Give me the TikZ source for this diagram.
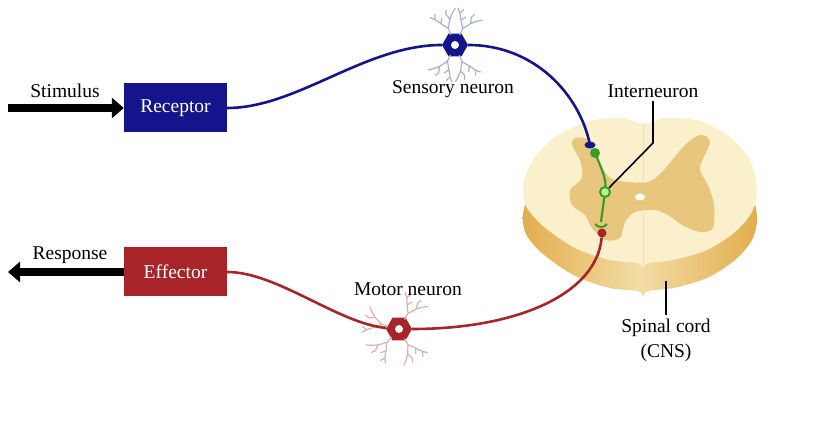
\documentclass[tikz,border=0pt]{standalone}
\usepackage{fontspec}
\setmainfont{Liberation Serif}
\usetikzlibrary{arrows.meta,positioning,shapes.geometric}

\definecolor{sensblue}{HTML}{14148C}
\definecolor{motorred}{HTML}{A82428}
\definecolor{intgreen}{HTML}{3C9A28}
\definecolor{sensdend}{HTML}{A8B0CC}
\definecolor{motordend}{HTML}{D8B0B0}
\definecolor{cordtop}{HTML}{FAF0CC}
\definecolor{cordgray}{HTML}{E8C67E}
\definecolor{cordside}{HTML}{E2AE4C}

\tikzset{
  box/.style={minimum width=103pt,minimum height=49pt,inner sep=0pt,text=white},
  bigarrow/.style={line width=7.5pt,-{Triangle[length=12pt,width=20pt]}},
  axon/.style={line width=2.6pt},
  soma/.style={regular polygon,regular polygon sides=6,minimum size=26pt,inner sep=0pt},
  leader/.style={line width=1.6pt},
  dendrite/.pic={\draw (11,0) -- (18,0) -- (25,-5) -- (31,-9) (25,-5) -- (30,-2)
    (18,0) -- (26,5) -- (32,3) (26,5) -- (31,10) (31,-9) -- (35,-13) (31,-9) -- (36,-7)
    (32,3) -- (36,5) (31,10) -- (34,14);}
}

\begin{document}
\begin{tikzpicture}[x=1pt,y=-1pt,font=\fontsize{19.5}{25}\selectfont]
\useasboundingbox (0,0) rectangle (823,435);

% spinal cord
\path[left color=cordside,right color=cordside,middle color=cordtop!70!cordside,shift={(0,28)}]
  plot[smooth cycle] coordinates {(643,124) (665,118) (700,121) (730,137) (750,160) (757,190)
  (752,212) (735,232) (707,250) (673,260) (648,263) (643,268) (638,263) (610,260) (575,248)
  (543,226) (526,206) (523,185) (533,160) (555,137) (590,121) (622,118)};
\fill[cordtop] plot[smooth cycle] coordinates {(643,124) (665,118) (700,121) (730,137) (750,160)
  (757,190) (752,212) (735,232) (707,250) (673,260) (648,263) (643,268) (638,263) (610,260)
  (575,248) (543,226) (526,206) (523,185) (533,160) (555,137) (590,121) (622,118)};
\fill[cordgray] plot[smooth cycle] coordinates {(575,138) (588,140) (598,160) (610,178) (628,182)
  (648,182) (662,172) (685,145) (700,135) (710,142) (700,168) (708,185) (714,205) (713,228)
  (700,232) (682,225) (668,215) (655,210) (635,212) (625,222) (620,238) (605,240) (592,228)
  (585,215) (572,205) (570,190) (582,178) (580,160) (572,145)};
\draw[cordgray!50!cordtop,line width=1pt] (643,124) -- (643,180) (643,214) -- (643,266);
\fill[white] (640,197) ellipse (5 and 3.5);

% receptor and effector
\node[box,fill=sensblue] (receptor) at (175.5,108) {Receptor};
\node[box,fill=motorred] (effector) at (175.5,272) {Effector};
\node (stimulus) at (65,91) {Stimulus};
\node (response) at (70,255) {Response};
\coordinate (stimin) at (8,108);
\coordinate (respout) at (8,272);
\draw[bigarrow] (stimin) -- (receptor.west);
\draw[bigarrow] (effector.west) -- (respout);

% sensory neuron
\node[soma,fill=sensblue] (scell) at (455,45) {};
\fill[white] (scell) circle (4);
\foreach \a in {65,112,245,293}
  \pic[color=sensdend,line width=1.2pt,rotate=\a] at (scell) {dendrite};
\node (senslabel) at (453,89) {Sensory neuron};
\coordinate (sterm) at (590,145);
\draw[axon,sensblue] (receptor.east) .. controls +(70,0) and +(-90,0) .. (scell);
\draw[axon,sensblue] (scell) .. controls +(80,0) and +(-10,-50) .. (sterm);
\fill[sensblue] (sterm) ellipse (5.5 and 3.5);

% interneuron
\coordinate (iA) at (595,153);
\node[circle,draw=intgreen,line width=2pt,fill=green!25!cordtop,minimum size=10pt,inner sep=0pt] (inter) at (605,192) {};
\coordinate (iC) at (601,222);
\draw[intgreen,line width=2.2pt] (iA) .. controls (600,165) and (606,178) .. (inter) -- (iC);
\fill[intgreen] (iA) circle (5);
\draw[intgreen,line width=2pt] (595,224) .. controls (598,228) and (604,228) .. (607,224);

% motor neuron
\node[circle,fill=motorred,minimum size=9pt,inner sep=0pt] (mterm) at (602,233) {};
\node[soma,fill=motorred] (mcell) at (399,329) {};
\fill[white] (mcell) circle (4);
\foreach \a in {60,165,228,300}
  \pic[color=motordend,line width=1.2pt,rotate=\a] at (mcell) {dendrite};
\node (motorlabel) at (408,289) {Motor neuron};
\draw[axon,motorred] (effector.east) .. controls +(50,0) and +(-60,-5) .. (mcell);
\draw[axon,motorred] (mcell) .. controls +(120,0) and +(-5,60) .. (mterm);

% labels on the cord
\node (interlabel) at (653,91) {Interneuron};
\coordinate (ibend) at (653,143);
\draw[leader] (interlabel.south) -- (ibend) -- (inter);
\node[align=center] (cordlabel) at (666,340) {Spinal cord\\(CNS)};
\coordinate (cordpt) at (666,281);
\draw[leader] (cordpt) -- (cordlabel.north);

\end{tikzpicture}
\end{document}
